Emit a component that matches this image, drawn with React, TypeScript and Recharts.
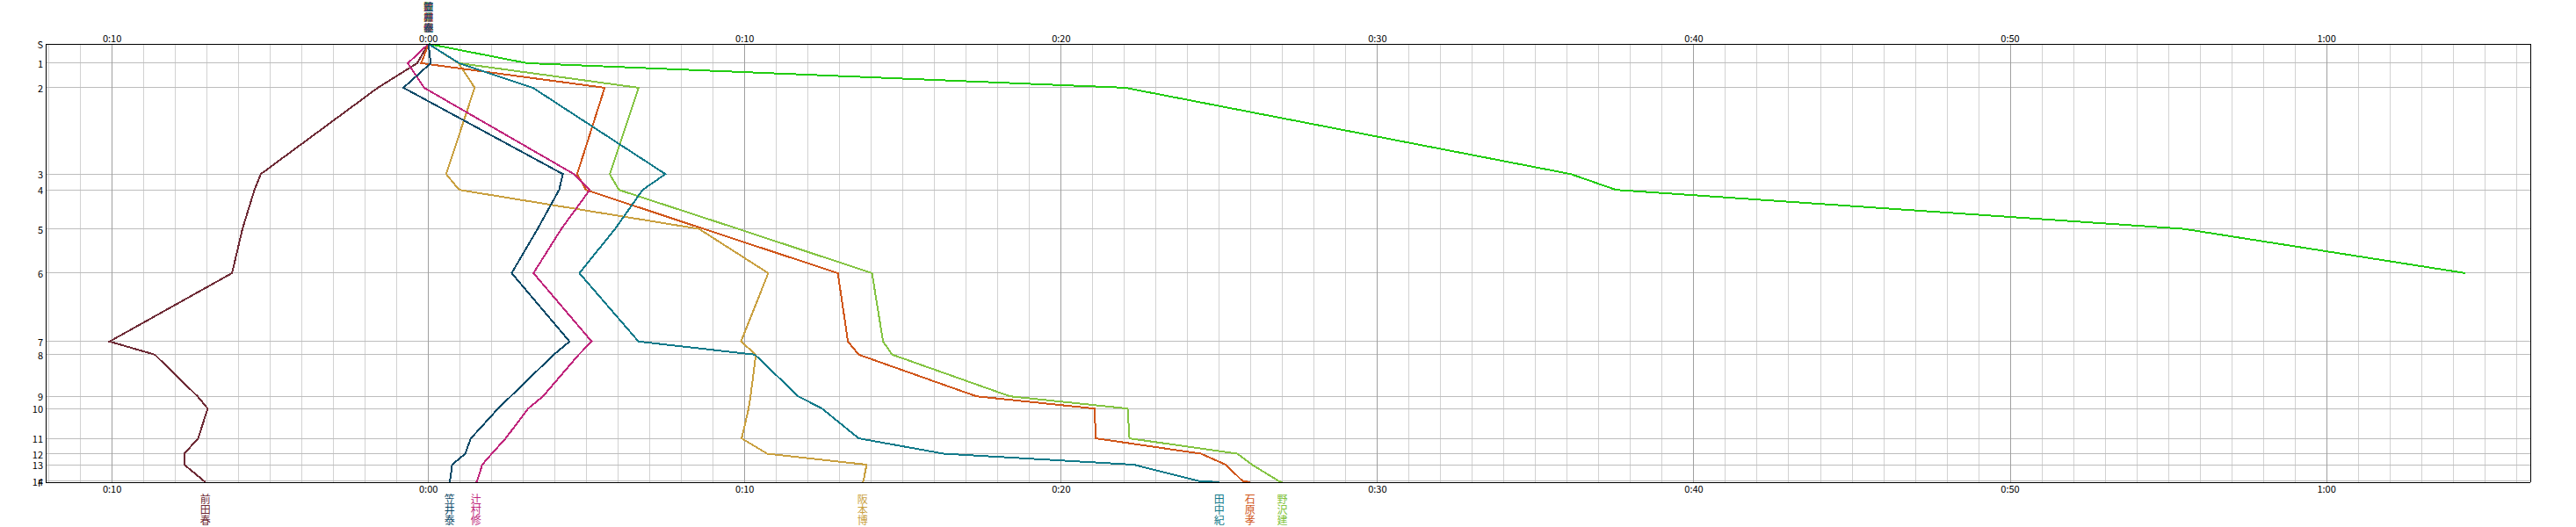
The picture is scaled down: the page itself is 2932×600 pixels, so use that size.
import React from 'react';
import { LineChart, Line, XAxis, YAxis, CartesianGrid, ReferenceLine } from 'recharts';

// checkpoints down the course (S = start, F = finish) and their relative distance
const stationLabels = ['S', '1', '2', '3', '4', '5', '6', '7', '8', '9', '10', '11', '12', '13', '14', 'F'];
const stationDist = [0, 44, 100, 297, 333, 422, 523, 679, 709, 804, 832, 900, 935, 960, 997, 1000];

// gap in minutes at each checkpoint (negative = ahead)
const maedaGap = [0, -0.36, -1.6, -5.3, -5.5, -5.88, -6.21, -10.08, -8.65, -7.3, -6.98, -7.28, -7.72, -7.72, -7.1, -7.05];
const kasaiGap = [0, 0.07, -0.79, 4.25, 4.13, 3.45, 2.63, 4.46, 3.96, 2.6, 2.2, 1.34, 1.16, 0.75, 0.68, 0.67];
const tsujimuraGap = [0, -0.65, -0.14, 4.6, 5.1, 4.2, 3.32, 5.16, 4.75, 3.62, 3.15, 2.44, 2.0, 1.7, 1.54, 1.5];
const sakamotoGap = [0, 0.95, 1.46, 0.56, 0.97, 8.55, 10.74, 9.88, 10.35, 10.18, 10.12, 9.9, 10.71, 13.85, 13.75, 13.72];
const tanakaGap = [0, 0.97, 3.3, 7.49, 6.77, 5.9, 4.77, 6.64, 10.32, 11.69, 12.44, 13.6, 16.29, 22.3, 24.33, 25.0];
const ishiharaGap = [0, -0.23, 5.57, 4.7, 4.98, 8.7, 12.94, 13.26, 13.6, 17.32, 21.05, 21.1, 24.42, 25.2, 25.73, 25.97];
const nozawaGap = [0, 0.97, 6.64, 5.73, 6.02, 9.79, 14.02, 14.37, 14.66, 18.38, 22.1, 22.16, 25.57, 26.03, 26.87, 26.99];
const leadGap = [0, 3.12, 22.02, 36.11, 37.54, 55.48, 64.39];

const runnerNames = ['', '前田春', '阪本博', '野沢建', '石原孝', '田中紀', '辻村修', '笠井泰'];
const runnerGaps = [leadGap, maedaGap, sakamotoGap, nozawaGap, ishiharaGap, tanakaGap, tsujimuraGap, kasaiGap];
const runnerColors = ['#22cc11', '#6e2b36', '#c9a040', '#84c443', '#d0561a', '#127a8a', '#c0267c', '#0d4a68'];

const minuteTicks: number[] = [];
for (let m = -12; m <= 66; m++) minuteTicks.push(m);
const majorTicks = minuteTicks.filter((m) => m % 10 === 0);

const FONT = '"Noto Sans CJK JP", "DejaVu Sans", sans-serif';

const fmt = (v: number) => {
  const a = Math.abs(v);
  return `${Math.floor(a / 60)}:${String(a % 60).padStart(2, '0')}`;
};

const TimeTick = (top: boolean) => (props: any) => {
  const { x, y, payload } = props;
  if (payload.value % 10 !== 0) return <g />;
  return (
    <text x={x} y={top ? y - 2 : y + 12} textAnchor="middle" fontSize={11} fontFamily={FONT} fill="#000">
      {fmt(payload.value)}
    </text>
  );
};

const StationTick = (right: boolean) => (props: any) => {
  const { x, y, payload, index } = props;
  const label = stationLabels[stationDist.indexOf(payload.value)] ?? String(index);
  return (
    <text x={right ? x + 4 : x - 3} y={y} textAnchor={right ? 'start' : 'end'} dominantBaseline="central"
      fontSize={11} fontFamily={FONT} fill="#000">
      {label}
    </text>
  );
};

const makeDot = (name: string, color: string, last: number) => (p: any) => {
  const { cx, cy, index } = p;
  if (name && (index === last || index === 0)) {
    const atEnd = index === last;
    return (
      <g key={`n${index}`}>
        {name.split('').map((c, i) => (
          <text key={i} x={cx} y={atEnd ? cy + 18.5 + i * 12 : cy - 43 + i * 12} textAnchor="middle"
            dominantBaseline="central" fontSize={atEnd ? 12 : 11} fontFamily={FONT} fill={color}>
            {c}
          </text>
        ))}
      </g>
    );
  }
  return <g key={`n${index}`} />;
};

export default function App() {
  const series = runnerGaps.map((gaps) => gaps.map((t, i) => ({ t, d: stationDist[i] })));

  return (
    <div style={{ position: 'absolute', left: 0, top: 0, background: '#fff', shapeRendering: 'crispEdges' }}>
      <LineChart width={2932} height={600} margin={{ top: 0, right: 0, bottom: 0, left: 0 }}>
        <XAxis xAxisId="b" type="number" dataKey="t" domain={[-12.1, 66.44]} allowDataOverflow ticks={minuteTicks}
          interval={0} orientation="bottom" height={51} tickSize={0} tickMargin={0} tickLine={false}
          axisLine={{ stroke: '#000', strokeWidth: 1 }} tick={TimeTick(false)} />
        <XAxis xAxisId="t" type="number" dataKey="t" domain={[-12.1, 66.44]} allowDataOverflow ticks={minuteTicks}
          interval={0} orientation="top" height={50} tickSize={0} tickMargin={0} tickLine={false}
          axisLine={{ stroke: '#000', strokeWidth: 1 }} tick={TimeTick(true)} />
        <YAxis yAxisId="l" type="number" dataKey="d" domain={[0, 1000]} reversed ticks={stationDist} interval={0}
          orientation="left" width={52} tickSize={0} tickMargin={0} tickLine={false}
          axisLine={{ stroke: '#000', strokeWidth: 1 }} tick={StationTick(false)} />
        <YAxis yAxisId="r" type="number" dataKey="d" domain={[0, 1000]} reversed ticks={stationDist} interval={0}
          orientation="right" width={52} tickSize={0} tickMargin={0} tickLine={false}
          axisLine={{ stroke: '#000', strokeWidth: 1 }} tick={StationTick(true)} />
        <CartesianGrid xAxisId="b" yAxisId="l" horizontal={false} stroke="#d2d2d2" />
        <CartesianGrid xAxisId="b" yAxisId="l" vertical={false} stroke="#bdbdbd" />
        {majorTicks.map((m) => (
          <ReferenceLine key={m} xAxisId="b" yAxisId="l" x={m} stroke="#a0a0a0" />
        ))}
        {series.map((pts, k) => (
          <Line key={k} xAxisId="b" yAxisId="l" data={pts} dataKey="d" type="linear" stroke={runnerColors[k]}
            strokeWidth={2} isAnimationActive={false} activeDot={false}
            dot={makeDot(runnerNames[k], runnerColors[k], pts.length - 1)} />
        ))}
      </LineChart>
    </div>
  );
}
